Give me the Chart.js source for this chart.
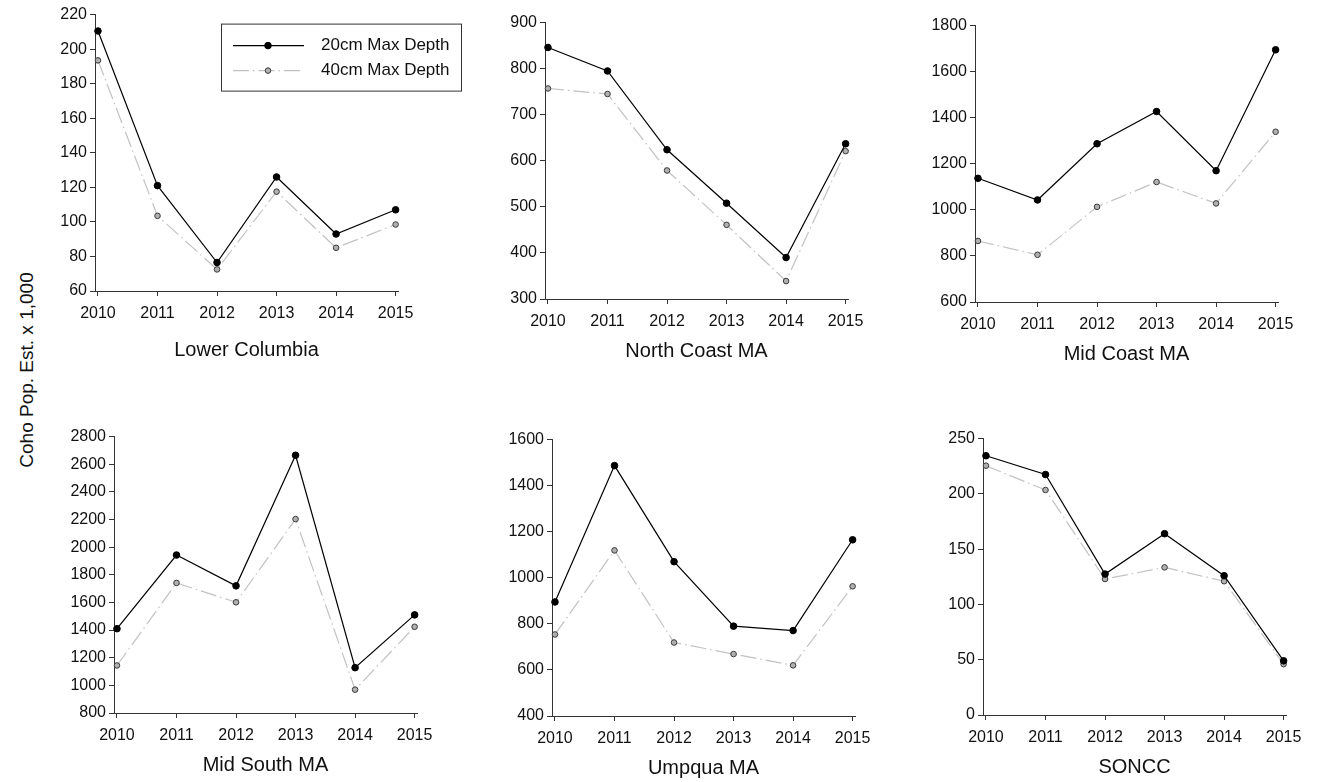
<!DOCTYPE html>
<html>
<head>
<meta charset="utf-8">
<title>Coho population estimates</title>
<script src="https://cdn.jsdelivr.net/npm/chart.js@4.4.1/dist/chart.umd.min.js"></script>
<style>
  body { margin: 0; background: #fff; width: 1317px; height: 782px; position: relative; overflow: hidden;
         font-family: 'Liberation Sans', Arial, sans-serif; }
  canvas { position: absolute; }
  #ytitle { position: absolute; left: 27px; top: 370px; transform: translate(-50%, -50%) rotate(-90deg);
            font-size: 19px; white-space: nowrap; color: #111; }
</style>
</head>
<body>
<div id="ytitle">Coho Pop. Est. x 1,000</div>
<script>
const years = [2010, 2011, 2012, 2013, 2014, 2015];
const seriesLabels = ["20cm Max Depth", "40cm Max Depth"];
const panelTitles = ["Lower Columbia", "North Coast MA", "Mid Coast MA", "Mid South MA", "Umpqua MA", "SONCC"];

// values (x 1,000)
const lowerColumbia20 = [210.5, 121, 76.5, 126, 93, 107];
const lowerColumbia40 = [193.5, 103.5, 72.5, 117.5, 85, 98.5];
const northCoast20 = [846, 795, 624, 508, 390, 637];
const northCoast40 = [757, 745, 579, 461, 339, 621];
const midCoast20 = [1137, 1043, 1287, 1427, 1170, 1695];
const midCoast40 = [865, 805, 1013, 1121, 1028, 1339];
const midSouth20 = [1410, 1943, 1720, 2665, 1128, 1510];
const midSouth40 = [1144, 1741, 1601, 2203, 969, 1424];
const umpqua20 = [895, 1487, 1070, 790, 771, 1165];
const umpqua40 = [754, 1119, 719, 669, 620, 963];
const soncc20 = [234.5, 217.5, 127.5, 164, 126, 49];
const soncc40 = [225.5, 203.5, 123, 133.5, 121, 46];

const depth20 = [lowerColumbia20, northCoast20, midCoast20, midSouth20, umpqua20, soncc20];
const depth40 = [lowerColumbia40, northCoast40, midCoast40, midSouth40, umpqua40, soncc40];

const yMins = [60, 300, 600, 800, 400, 0];
const yMaxs = [220, 900, 1800, 2800, 1600, 250];
const ySteps = [20, 100, 200, 200, 200, 50];

// where each plot area sits on the page
const plotBoxes = [
  { left: 95, top: 14, titleY: 350 },
  { left: 545, top: 22, titleY: 351 },
  { left: 975, top: 25, titleY: 354 },
  { left: 114, top: 436, titleY: 765 },
  { left: 552, top: 439, titleY: 768 },
  { left: 983, top: 438, titleY: 767 }
];
const PLOT_W = 303, PLOT_H = 277, Y_AXIS_W = 60, PAD_TOP = 12, PAD_RIGHT = 70;
const FONT = "'Liberation Sans', Arial, sans-serif";

Chart.defaults.font.family = FONT;
Chart.defaults.color = "#111";

// boxed legend drawn inside the first panel
const boxLegend = {
  id: "boxLegend",
  afterDraw(chart) {
    const ctx = chart.ctx;
    const x0 = chart.chartArea.left + 126, y0 = chart.chartArea.top + 9;
    ctx.save();
    ctx.fillStyle = "#fff";
    ctx.fillRect(x0, y0, 240, 67);
    ctx.strokeStyle = "#333";
    ctx.lineWidth = 1;
    ctx.strokeRect(x0 + 0.5, y0 + 0.5, 240, 67);
    chart.data.datasets.forEach((ds, k) => {
      const y = y0 + 22 + k * 25;
      ctx.setLineDash(ds.borderDash || []);
      ctx.strokeStyle = ds.borderColor;
      ctx.lineWidth = ds.borderWidth;
      ctx.beginPath();
      ctx.moveTo(x0 + 12, y);
      ctx.lineTo(x0 + 83, y);
      ctx.stroke();
      ctx.setLineDash([]);
      ctx.beginPath();
      ctx.arc(x0 + 47, y, ds.pointRadius, 0, Math.PI * 2);
      ctx.fillStyle = ds.pointBackgroundColor;
      ctx.fill();
      ctx.strokeStyle = ds.pointBorderColor;
      ctx.lineWidth = 1;
      ctx.stroke();
      ctx.fillStyle = "#111";
      ctx.font = "17px " + FONT;
      ctx.textAlign = "left";
      ctx.textBaseline = "middle";
      ctx.fillText(ds.label, x0 + 100, y);
    });
    ctx.restore();
  }
};

plotBoxes.forEach((box, i) => {
  const xH = Math.round(box.titleY + 12 - (box.top + PLOT_H));
  const canvas = document.createElement("canvas");
  canvas.width = Y_AXIS_W + PLOT_W + PAD_RIGHT;
  canvas.height = PAD_TOP + PLOT_H + xH;
  canvas.style.left = (box.left - Y_AXIS_W) + "px";
  canvas.style.top = (box.top - PAD_TOP) + "px";
  document.body.appendChild(canvas);

  const axisGrid = { drawOnChartArea: false, drawTicks: true, tickLength: 5, color: "#333" };
  const axisBorder = { display: true, color: "#333", width: 1 };

  new Chart(canvas.getContext("2d"), {
    type: "line",
    data: {
      datasets: [
        {
          label: seriesLabels[0],
          data: years.map((yr, j) => ({ x: yr, y: depth20[i][j] })),
          borderColor: "#000",
          borderWidth: 1.2,
          pointRadius: 3.3,
          pointBackgroundColor: "#000",
          pointBorderColor: "#000",
          pointBorderWidth: 1,
          tension: 0,
          clip: false
        },
        {
          label: seriesLabels[1],
          data: years.map((yr, j) => ({ x: yr, y: depth40[i][j] })),
          borderColor: "#c2c2c2",
          borderWidth: 1.2,
          borderDash: [16, 4, 1.5, 4],
          pointRadius: 2.8,
          pointBackgroundColor: "#b0b0b0",
          pointBorderColor: "#3a3a3a",
          pointBorderWidth: 1,
          tension: 0,
          clip: false
        }
      ]
    },
    options: {
      responsive: false,
      animation: false,
      devicePixelRatio: 1,
      layout: { padding: { top: PAD_TOP, right: PAD_RIGHT, left: 0, bottom: 0 } },
      plugins: { legend: { display: false }, tooltip: { enabled: false } },
      scales: {
        x: {
          type: "linear",
          min: 2009.95,
          max: 2015.04,
          afterBuildTicks: (s) => { s.ticks = years.map((v) => ({ value: v })); },
          afterFit: (s) => { s.height = xH; },
          grid: axisGrid,
          border: axisBorder,
          ticks: { padding: 8, font: { size: 16 }, maxRotation: 0, autoSkip: false, callback: (v) => String(v) },
          title: { display: true, text: panelTitles[i], font: { size: 20 }, padding: 0 }
        },
        y: {
          min: yMins[i],
          max: yMaxs[i],
          afterFit: (s) => { s.width = Y_AXIS_W; },
          grid: axisGrid,
          border: axisBorder,
          ticks: { stepSize: ySteps[i], padding: 3, font: { size: 16 }, callback: (v) => String(v) }
        }
      }
    },
    plugins: i === 0 ? [boxLegend] : []
  });
});
</script>
</body>
</html>
